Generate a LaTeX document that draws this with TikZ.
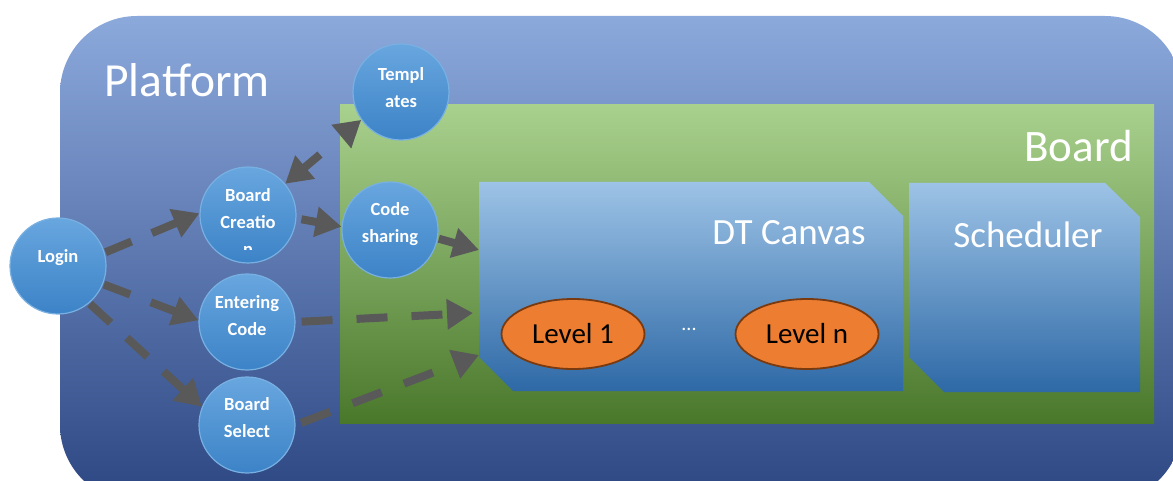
\documentclass[tikz,border=0pt]{standalone}
\usepackage{fontspec}
\setmainfont{Carlito}
\usetikzlibrary{arrows.meta,shapes.geometric}
\definecolor{platT}{HTML}{8CA9DC}
\definecolor{platM}{HTML}{4A73C2}
\definecolor{platB}{HTML}{2C4682}
\definecolor{grnT}{HTML}{A9D18E}
\definecolor{grnM}{HTML}{71AD47}
\definecolor{grnB}{HTML}{4A782B}
\definecolor{cvT}{HTML}{9DC3E6}
\definecolor{cvB}{HTML}{2E69A6}
\definecolor{ccT}{HTML}{68A6DF}
\definecolor{ccB}{HTML}{3C83C7}
\definecolor{ccE}{HTML}{78B0E2}
\definecolor{arr}{HTML}{595959}
\definecolor{lvl}{HTML}{ED7D31}
\definecolor{lvlE}{HTML}{7A3A10}
\tikzset{
  circ/.style={circle, minimum size=96pt, inner sep=0pt, draw=ccE, line width=1.2pt,
    top color=ccT, bottom color=ccB},
  ctext/.style={text=white, font=\fontsize{18.5}{27}\selectfont\bfseries, align=center, inner sep=0pt},
  conn/.style={draw=arr, line width=8pt, -{Triangle[length=26pt,width=29pt]}},
  dconn/.style={conn, dash pattern=on 28pt off 22pt},
  big/.style={text=white, inner sep=0pt},
  lev/.style={ellipse, minimum width=143pt, minimum height=70pt, fill=lvl, draw=lvlE, line width=1.8pt,
    font=\fontsize{29}{32}\selectfont, inner sep=0pt}
}
\begin{document}
\begin{tikzpicture}[x=1pt,y=-1pt]
\useasboundingbox (0,0) rectangle (1173,481);
\fill[white] (0,0) rectangle (1173,481);
\begin{scope}
\clip (0,0) rectangle (1173,481);
\shade[top color=platT, middle color=platM, bottom color=platB, rounded corners=77pt]
  (60,16) rectangle (1182,502);
\end{scope}
\node[big, font=\fontsize{47.5}{50}\selectfont] (plat) at (187,80) {Platform};
% Board
\shade[top color=grnT, middle color=grnM, bottom color=grnB] (340,105) rectangle (1154,423);
\node[big, font=\fontsize{45}{50}\selectfont, anchor=east] (board) at (1133,146) {Board};
% DT canvas
\shade[top color=cvT, bottom color=cvB]
  (479,182) -- (869,182) -- (903,216) -- (903,391) -- (513,391) -- (479,357) -- cycle;
\node[big, font=\fontsize{37}{40}\selectfont] (dt) at (789,233) {DT Canvas};
% Scheduler
\shade[top color=cvT, bottom color=cvB]
  (909,183) -- (1105,183) -- (1140,217) -- (1140,392) -- (944,392) -- (909,357) -- cycle;
\node[big, font=\fontsize{37}{40}\selectfont] (sch) at (1028,235) {Scheduler};
% levels
\node[lev] (l1) at (573,334) {Level 1};
\node[lev] (ln) at (807,334) {Level n};
\node[big, font=\fontsize{20}{22}\selectfont] (dots) at (689,329) {...};
% circles
\node[circ] (login) at (58,266) {};
\node[ctext] (logint) at (58,258) {Login};
\node[circ] (tp) at (401,92) {};
\node[ctext] (tpt) at (401,88) {Templ\\ates};
\node[circ] (bc) at (248,215) {};
\begin{scope}
\clip (200,160) rectangle (300,250);
\node[ctext] (bct) at (248,222) {Board\\Creatio\\n};
\end{scope}
\node[circ] (cs) at (390,230) {};
\node[ctext] (cst) at (390,224) {Code\\sharing};
\node[circ] (ec) at (247,322) {};
\node[ctext] (ect) at (247,316) {Entering\\Code};
\node[circ] (bs) at (247,425) {};
\node[ctext] (bst) at (247,418) {Board\\Select};
% anchors on DT canvas
\coordinate (d1) at (479,250);
\coordinate (d2) at (473,313);
\coordinate (d3) at (479,355);
% connectors
\draw[dconn, shorten <=1pt] (login.16) -- (bc.178);
\draw[dconn, shorten <=1pt] (login.-22) -- (ec.178);
\draw[dconn, shorten <=1pt] (login.-50) -- (bs.158);
\draw[draw=arr, line width=8pt, {Triangle[length=26pt,width=29pt]}-{Triangle[length=26pt,width=29pt]}, dash pattern=on 21pt off 60pt]
  (bc.40) -- (tp.215);
\draw[conn, shorten <=5pt] (bc.-4) -- (cs.176);
\draw[conn, shorten <=1pt] (cs.-10) -- (d1);
\draw[dconn, dash pattern=on 31pt off 24pt, shorten <=6pt] (ec.0) -- (d2);
\draw[dconn, dash pattern=on 31pt off 24pt, shorten <=6pt] (bs.0) -- (d3);
\end{tikzpicture}
\end{document}
